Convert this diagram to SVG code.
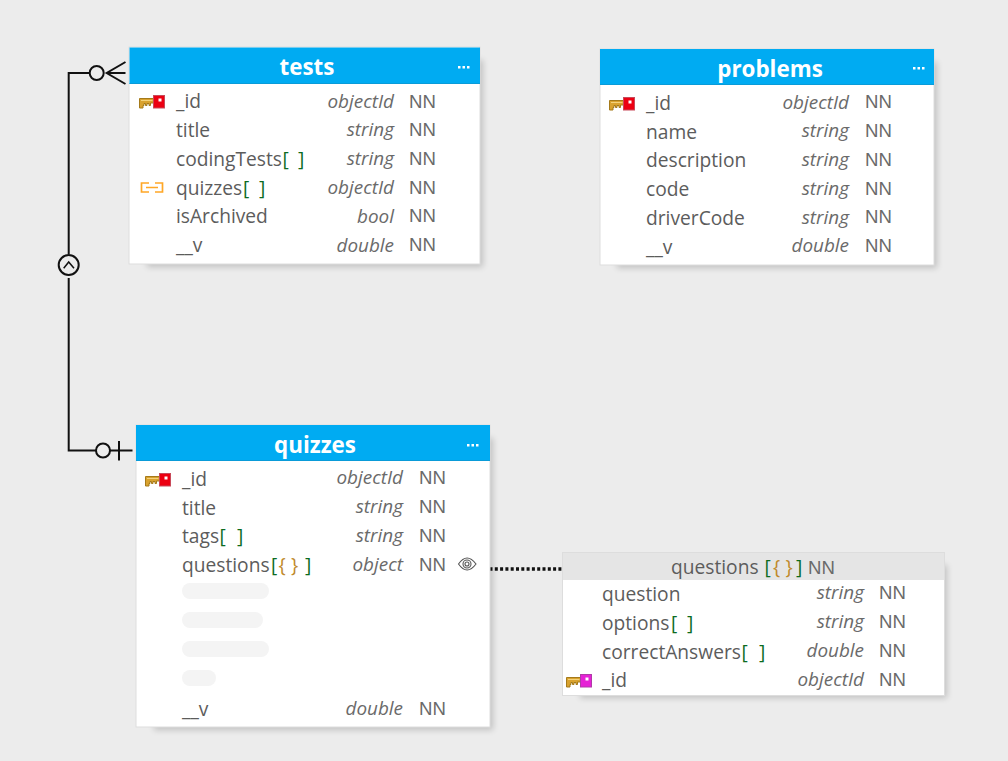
<svg xmlns="http://www.w3.org/2000/svg" width="1008" height="761" viewBox="0 0 1008 761">
<style>
text{font-family:"Open Sans","Noto Sans",sans-serif;fill:#5c5c5c}
.n{font-size:19.2px}
.t{font-size:18.9px;font-style:italic;text-anchor:end;fill:#6a6a6a}
.nn{font-family:"Liberation Sans",Arial,sans-serif;font-size:18.6px;fill:#6a6a6a}
.h{font-size:22.4px;font-weight:700;fill:#fff;text-anchor:middle}
.g{fill:#0d6b1f}
.o{fill:#c08a2c}
.card{fill:#fff;stroke:#ddd;stroke-width:1}
.head{fill:#00abf2}
.rule{fill:#0a9bd8}
.sh{fill:#000;opacity:.18;filter:url(#b)}
.d{fill:#fff}
.sk{fill:#f4f4f4}
.c{fill:none;stroke:#111;stroke-width:2}
.ci{fill:#ececec;stroke:#111;stroke-width:2}
</style>
<defs>
<filter id="b" x="-10%" y="-10%" width="120%" height="120%"><feGaussianBlur stdDeviation="3"/></filter>
<g id="key">
<path d="M0.5 3.500H15V8H11.500V10.500H10V8.500H8V10.500H6.500V8.500H5V10.500H4V13H0.500Z" fill="#d9a22e" stroke="#a57a1a" stroke-width="1"/>
<path d="M2 5.500H13.500" stroke="#f3d27a" stroke-width="1"/>
<rect x="14.500" y="0.500" width="11" height="12.500" fill="#ec0012" stroke="#c84a5a" stroke-width="1"/>
<rect x="19.500" y="3.500" width="3" height="3" fill="#fff"/>
</g>
<g id="keyM">
<path d="M0.5 3.500H15V8H11.500V10.500H10V8.500H8V10.500H6.500V8.500H5V10.500H4V13H0.500Z" fill="#d9a22e" stroke="#a57a1a" stroke-width="1"/>
<path d="M2 5.500H13.500" stroke="#f3d27a" stroke-width="1"/>
<rect x="14.500" y="0.500" width="11" height="12.500" fill="#e622d6" stroke="#b03aa8" stroke-width="1"/>
<rect x="19.500" y="3.500" width="3" height="3" fill="#fff"/>
</g>
<g id="dots"><rect x="0" y="0" width="2.500" height="2.500" class="d"/><rect x="4.500" y="0" width="2.500" height="2.500" class="d"/><rect x="9" y="0" width="2.500" height="2.500" class="d"/></g>
</defs>
<rect width="1008" height="761" fill="#ececec"/>

<g id="connectors">
<path class="c" d="M90 73H68.700V254M68.700 278V450.500H96"/>
<circle class="ci" cx="96.700" cy="73" r="7"/>
<path class="c" d="M125.500 62L106.700 73L125.500 84M106.700 73H125.500"/>
<circle class="ci" cx="68.700" cy="265" r="10"/>
<path d="M63.700 268.300L68.700 262L74 268.300" fill="none" stroke="#111" stroke-width="1.500"/>
<circle class="ci" cx="103" cy="450.500" r="7"/>
<path class="c" d="M110 450.500H132.500M119 441V460.500"/>
<path d="M489.500 569H562" fill="none" stroke="#111" stroke-width="3.500" stroke-dasharray="3 2.300"/>
</g>

<g id="tests">
<rect class="sh" x="147" y="60" width="336" height="207"/>
<rect class="card" x="129" y="47" width="351" height="217"/>
<rect class="head" x="129.500" y="47.500" width="350.500" height="36.500"/>
<rect class="rule" x="129.500" y="83" width="350.500" height="1"/>
<text class="h" x="307" y="75">tests</text>
<use href="#dots" x="458" y="66"/>
<use href="#key" x="139" y="95"/>
<path d="M149 183H141.500V192H149M155 183H162.500V192H155M146 187.500H158" fill="none" stroke="#ffa726" stroke-width="1.700"/>
<text class="n" x="176" y="108">_id</text><text class="t" x="394" y="108">objectId</text><text class="nn" x="409" y="107.500">NN</text>
<text class="n" x="176" y="137">title</text><text class="t" x="394" y="136">string</text><text class="nn" x="409" y="135.500">NN</text>
<text class="n" x="176" y="166">codingTests<tspan class="g" x="282.500">[</tspan><tspan class="g" x="298">]</tspan></text><text class="t" x="394" y="165">string</text><text class="nn" x="409" y="164.500">NN</text>
<text class="n" x="176" y="195">quizzes<tspan class="g" x="243">[</tspan><tspan class="g" x="259">]</tspan></text><text class="t" x="394" y="194">objectId</text><text class="nn" x="409" y="193.500">NN</text>
<text class="n" x="176" y="223">isArchived</text><text class="t" x="394" y="222.500">bool</text><text class="nn" x="409" y="222">NN</text>
<text class="n" x="176" y="252">__v</text><text class="t" x="394" y="251.500">double</text><text class="nn" x="409" y="251">NN</text>
</g>

<g id="problems">
<rect class="sh" x="617" y="62" width="320" height="206"/>
<rect class="card" x="600" y="49" width="334" height="216"/>
<rect class="head" x="600" y="49" width="334" height="36"/>
<rect class="rule" x="600" y="84" width="334" height="1"/>
<text class="h" x="770" y="77">problems</text>
<use href="#dots" x="913" y="67"/>
<use href="#key" x="609" y="97"/>
<text class="n" x="646" y="110">_id</text><text class="t" x="849" y="108.500">objectId</text><text class="nn" x="865" y="108">NN</text>
<text class="n" x="646" y="139">name</text><text class="t" x="849" y="137">string</text><text class="nn" x="865" y="137">NN</text>
<text class="n" x="646" y="167">description</text><text class="t" x="849" y="166">string</text><text class="nn" x="865" y="166">NN</text>
<text class="n" x="646" y="196">code</text><text class="t" x="849" y="195">string</text><text class="nn" x="865" y="195">NN</text>
<text class="n" x="646" y="225">driverCode</text><text class="t" x="849" y="223.500">string</text><text class="nn" x="865" y="223">NN</text>
<text class="n" x="646" y="254">__v</text><text class="t" x="849" y="252">double</text><text class="nn" x="865" y="252">NN</text>
</g>

<g id="quizzes">
<rect class="sh" x="154" y="438" width="339" height="292"/>
<rect class="card" x="136" y="425" width="354" height="302"/>
<rect class="head" x="136" y="425" width="354" height="36"/>
<rect class="rule" x="136" y="460" width="354" height="1"/>
<text class="h" x="315" y="453">quizzes</text>
<use href="#dots" x="467" y="444"/>
<use href="#key" x="145" y="473"/>
<text class="n" x="182" y="486">_id</text><text class="t" x="403" y="484">objectId</text><text class="nn" x="419" y="484">NN</text>
<text class="n" x="182" y="515">title</text><text class="t" x="403" y="513">string</text><text class="nn" x="419" y="513">NN</text>
<text class="n" x="182" y="543">tags<tspan class="g" x="219.500">[</tspan><tspan class="g" x="237">]</tspan></text><text class="t" x="403" y="542">string</text><text class="nn" x="419" y="542">NN</text>
<text class="n" x="182" y="572">questions<tspan class="g" x="271">[</tspan><tspan class="o" x="278.500">{</tspan><tspan class="o" x="291">}</tspan><tspan class="g" x="305">]</tspan></text><text class="t" x="403" y="571">object</text><text class="nn" x="419" y="571">NN</text>
<g fill="none" stroke="#555" stroke-width="1.100"><path d="M458.500 564Q467 552 476 564Q467 576 458.500 564Z"/><circle cx="467" cy="564" r="4"/><circle cx="467" cy="564" r="2"/></g>
<rect class="sk" x="182" y="583" width="87" height="16" rx="8"/>
<rect class="sk" x="182" y="612" width="81" height="16" rx="8"/>
<rect class="sk" x="182" y="641" width="87" height="16" rx="8"/>
<rect class="sk" x="182" y="670" width="34" height="16" rx="8"/>
<text class="n" x="182" y="716">__v</text><text class="t" x="403" y="715">double</text><text class="nn" x="419" y="715">NN</text>
</g>

<g id="questions">
<rect class="sh" x="580" y="565" width="367" height="133"/>
<rect class="card" x="562.500" y="552.500" width="382" height="143"/>
<rect x="563" y="553" width="381" height="27" fill="#e5e5e5"/>
<text class="n" x="671" y="574">questions<tspan class="g" x="764.500">[</tspan><tspan class="o" x="773">{</tspan><tspan class="o" x="785.500">}</tspan><tspan class="g" x="796">]</tspan></text><text class="nn" x="808" y="574">NN</text>
<text class="n" x="602" y="601">question</text><text class="t" x="864" y="599">string</text><text class="nn" x="879" y="599">NN</text>
<text class="n" x="602" y="630">options<tspan class="g" x="671">[</tspan><tspan class="g" x="687">]</tspan></text><text class="t" x="864" y="628">string</text><text class="nn" x="879" y="628">NN</text>
<text class="n" x="602" y="659">correctAnswers<tspan class="g" x="741.500">[</tspan><tspan class="g" x="759">]</tspan></text><text class="t" x="864" y="657">double</text><text class="nn" x="879" y="657">NN</text>
<text class="n" x="602" y="687">_id</text><text class="t" x="864" y="686">objectId</text><text class="nn" x="879" y="686">NN</text>
<use href="#keyM" x="566" y="674"/>
</g>
</svg>
